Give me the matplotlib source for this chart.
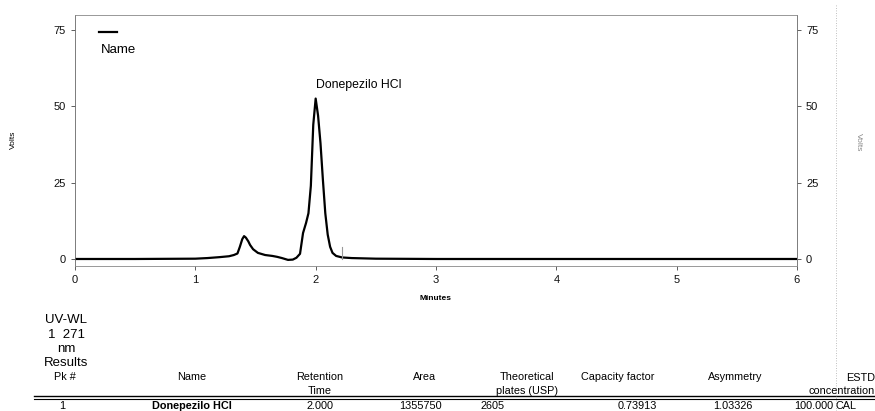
import matplotlib.pyplot as plt

plt.rcParams['font.family'] = ['Liberation Sans', 'DejaVu Sans']

# chromatogram trace
minutes = [0.00, 0.50, 1.00, 1.10, 1.20, 1.28, 1.32, 1.35, 1.37, 1.39, 1.405, 1.42,
           1.44, 1.455, 1.48, 1.52, 1.58, 1.64, 1.68, 1.72, 1.77, 1.81, 1.84, 1.87,
           1.895, 1.91, 1.92, 1.94, 1.96, 1.98, 2.00, 2.02, 2.04, 2.06, 2.08, 2.10,
           2.12, 2.14, 2.17, 2.22, 2.30, 2.50, 3.00, 4.00, 5.00, 6.00]
volts = [0.0, 0.0, 0.1, 0.3, 0.6, 0.9, 1.3, 1.8, 4.0, 6.5, 7.5, 7.0,
         5.8, 4.6, 3.2, 2.0, 1.3, 1.0, 0.7, 0.3, -0.3, -0.2, 0.4, 1.7,
         8.5, 10.5, 11.8, 15.0, 24.0, 44.0, 52.6, 47.0, 38.0, 26.0, 15.0, 8.0,
         4.0, 2.0, 1.0, 0.5, 0.3, 0.1, 0.0, 0.0, 0.0, 0.0]

peak_name = "Donepezilo HCl"
peak_time = 2.0
peak_height = 52.6
peak_end = 2.22

xticks = [0, 1, 2, 3, 4, 5, 6]
yticks = [0, 25, 50, 75]

header_labels = ["Pk #", "Name", "Retention\nTime", "Area", "Theoretical\nplates (USP)",
                 "Capacity factor", "Asymmetry"]
row_values = ["1", "Donepezilo HCl", "2.000", "1355750", "2605", "0.73913", "1.03326"]

W, H = 875, 411
fig = plt.figure(figsize=(W / 100, H / 100), dpi=100)
ax = fig.add_axes([75 / W, 1 - 266 / H, (797 - 75) / W, (266 - 15) / H])


def px(x, y):
    return x / W, 1 - y / H


ax.plot(minutes, volts, color='black', lw=1.6, label='Name')
ax.plot([peak_end, peak_end], [0, 4], color='#999999', lw=0.8)
ax.text(peak_time, peak_height + 2.5, peak_name, ha='left', va='bottom', fontsize=8.8)

ax.set_xlim(0, 6)
ax.set_ylim(-2.3, 80)
ax.set_xticks(xticks)
ax.set_yticks(yticks)
ax.tick_params(axis='both', labelsize=8, length=3, width=0.6, colors='#444444',
               labelcolor='#111111')
ax.tick_params(axis='y', right=True, labelright=True)
ax.set_xlabel("Minutes", fontsize=6, fontweight='bold', labelpad=7)

for side in ['top', 'bottom']:
    ax.spines[side].set_color('#888888')
    ax.spines[side].set_linewidth(0.6)
    ax.spines[side].set_linestyle((0, (3, 1)))
for side in ['left', 'right']:
    ax.spines[side].set_color('#666666')
    ax.spines[side].set_linewidth(0.6)

fig.text(*px(13, 140), "Volts", fontsize=6, rotation=90, ha='center', va='center')
fig.text(*px(858, 142), "Volts", fontsize=6, rotation=270, color='#888888',
         ha='center', va='center')

# legend: short line with the label written under it
leg = ax.legend(loc='upper left', frameon=False, fontsize=8, handlelength=1.6,
                bbox_to_anchor=(0.02, 0.99))
for t in leg.get_texts():
    t.set_visible(False)
fig.text(*px(101, 50), "Name", fontsize=9.5, ha='left', va='center')

# method info block
for txt, y in zip(["UV-WL", "1  271", "nm", "Results"], [320, 335, 349, 363]):
    fig.text(*px(66, y), txt, fontsize=9.5, ha='center', va='center')

# results table
col_x = [65, 192, 320, 425, 527, 618, 735]
val_x = [62, 192, 320, 420, 493, 637, 733]
for x, lab in zip(col_x, header_labels):
    for i, line in enumerate(lab.split('\n')):
        fig.text(*px(x, 377 + 14 * i), line, fontsize=7.8, ha='center', va='center')
fig.text(*px(875, 378), "ESTD", fontsize=7.8, ha='right', va='center')
fig.text(*px(875, 391), "concentration", fontsize=7.8, ha='right', va='center')

for x, v in zip(val_x, row_values):
    fig.text(*px(x, 406), v, fontsize=7.8, ha='center', va='center',
             fontweight='bold' if v == peak_name else 'normal')
fig.text(*px(833, 406), "100.000", fontsize=7.8, ha='right', va='center')
fig.text(*px(836, 406), "CAL", fontsize=7.8, ha='left', va='center')

fig.add_artist(plt.Line2D([34 / W, 1], [1 - 396 / H] * 2, color='black', lw=1.0))
fig.add_artist(plt.Line2D([34 / W, 1], [1 - 398.5 / H] * 2, color='black', lw=0.8))
fig.add_artist(plt.Line2D([836 / W] * 2, [1 - 5 / H, 1 - 411 / H], color='#aaaaaa',
                          lw=0.6, ls=(0, (1, 2))))

fig.savefig("out.png", dpi=100)
